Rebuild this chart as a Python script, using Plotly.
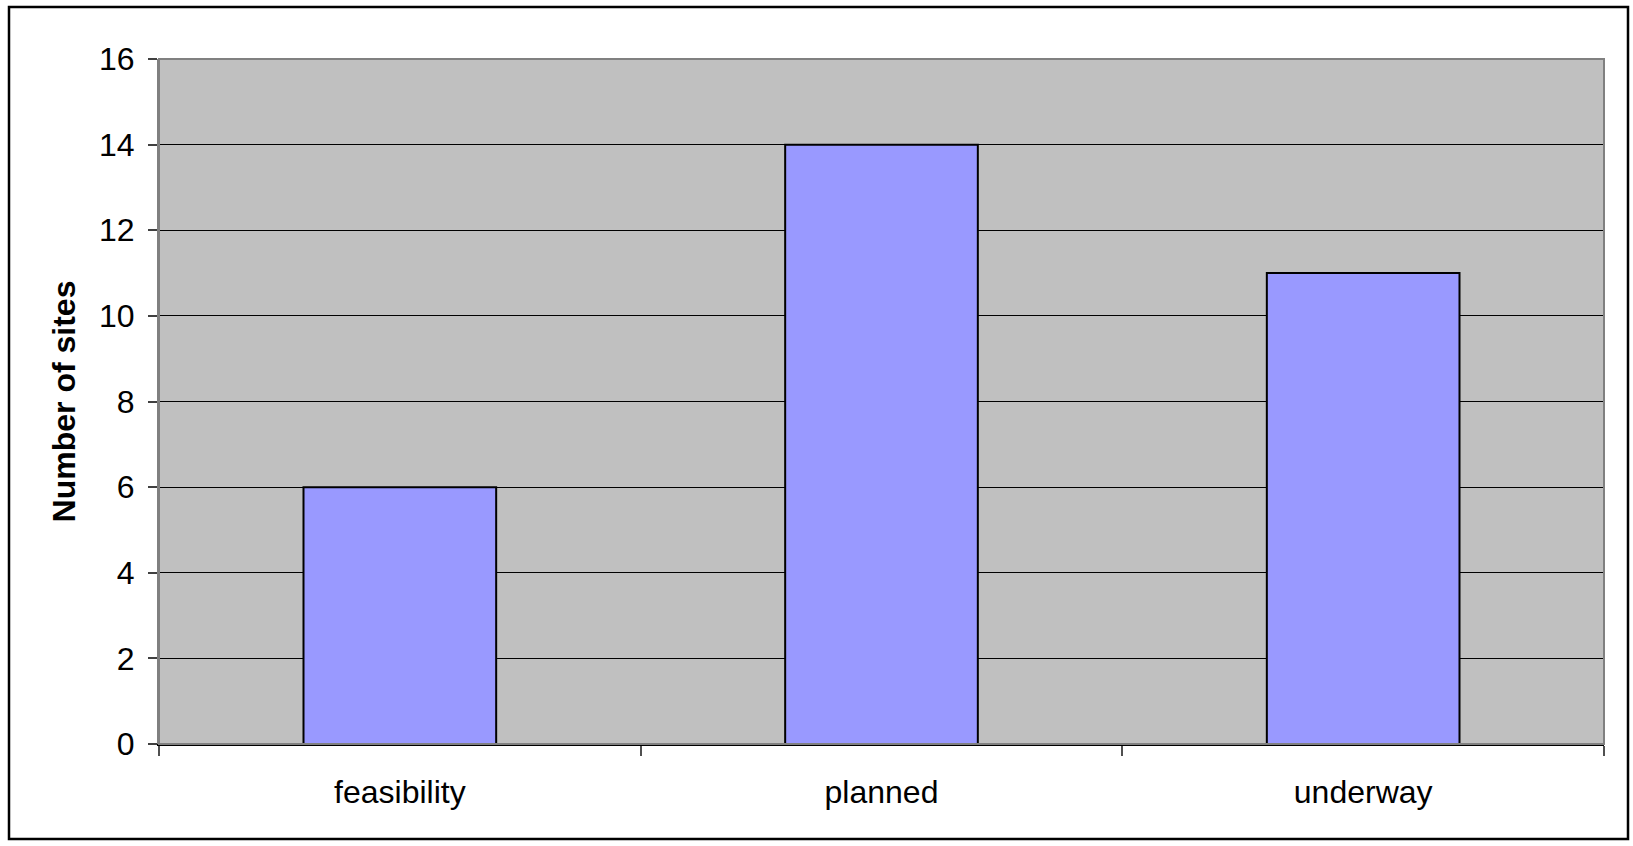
import plotly.graph_objects as go

# Site counts by project stage
stages = ["feasibility", "planned", "underway"]
site_counts = [6, 14, 11]
y_ticks = [0, 2, 4, 6, 8, 10, 12, 14, 16]

W, H = 1633, 846
L, R, T, B = 159, 29, 59, 102
pw, ph = W - L - R, H - T - B

font_family = "Liberation Sans, Arial, sans-serif"

fig = go.Figure(
    go.Bar(
        x=stages,
        y=site_counts,
        marker=dict(color="#9999FF", line=dict(color="#000000", width=2)),
        hoverinfo="x+y",
    )
)

# outer chart border, expressed in plot-area (paper) fractions
ox0, oy0, ox1, oy1 = 9, 7, 1628, 839
def px_to_paper_x(px):
    return (px - L) / pw
def px_to_paper_y(py):
    return (H - B - py) / ph

fig.add_shape(
    type="rect", xref="paper", yref="paper",
    x0=px_to_paper_x(ox0), x1=px_to_paper_x(ox1),
    y0=px_to_paper_y(oy1), y1=px_to_paper_y(oy0),
    line=dict(color="#000000", width=2.5), fillcolor="rgba(0,0,0,0)",
    layer="above",
)
# plot-area frame
fig.add_shape(
    type="rect", xref="paper", yref="paper",
    x0=0, x1=1, y0=0, y1=1,
    line=dict(color="#808080", width=2), fillcolor="rgba(0,0,0,0)",
    layer="above",
)

fig.update_layout(
    width=W, height=H,
    margin=dict(l=L, r=R, t=T, b=B, pad=0),
    paper_bgcolor="#FFFFFF",
    plot_bgcolor="#C0C0C0",
    bargap=0.6,
    showlegend=False,
    font=dict(family=font_family, color="#000000", size=32),
    xaxis=dict(
        type="category",
        range=[-0.5, 2.5],
        showgrid=False,
        showline=True, linecolor="#000000", linewidth=2,
        ticks="outside", tickson="boundaries", ticklen=10, tickwidth=1.5,
        tickcolor="#505050",
        tickfont=dict(size=32, family=font_family),
        ticklabelstandoff=19,
    ),
    yaxis=dict(
        range=[0, 16],
        tickvals=y_ticks,
        showgrid=True, gridcolor="#000000", gridwidth=1,
        zeroline=False,
        showline=True, linecolor="#808080", linewidth=2,
        ticks="outside", ticklen=9, tickwidth=1.5, tickcolor="#404040",
        tickfont=dict(size=32, family=font_family),
        ticklabelstandoff=7,
        title=dict(
            text="<b>Number of sites</b>",
            font=dict(size=32, family=font_family),
            standoff=14,
        ),
    ),
)

fig.write_html("out.html")
